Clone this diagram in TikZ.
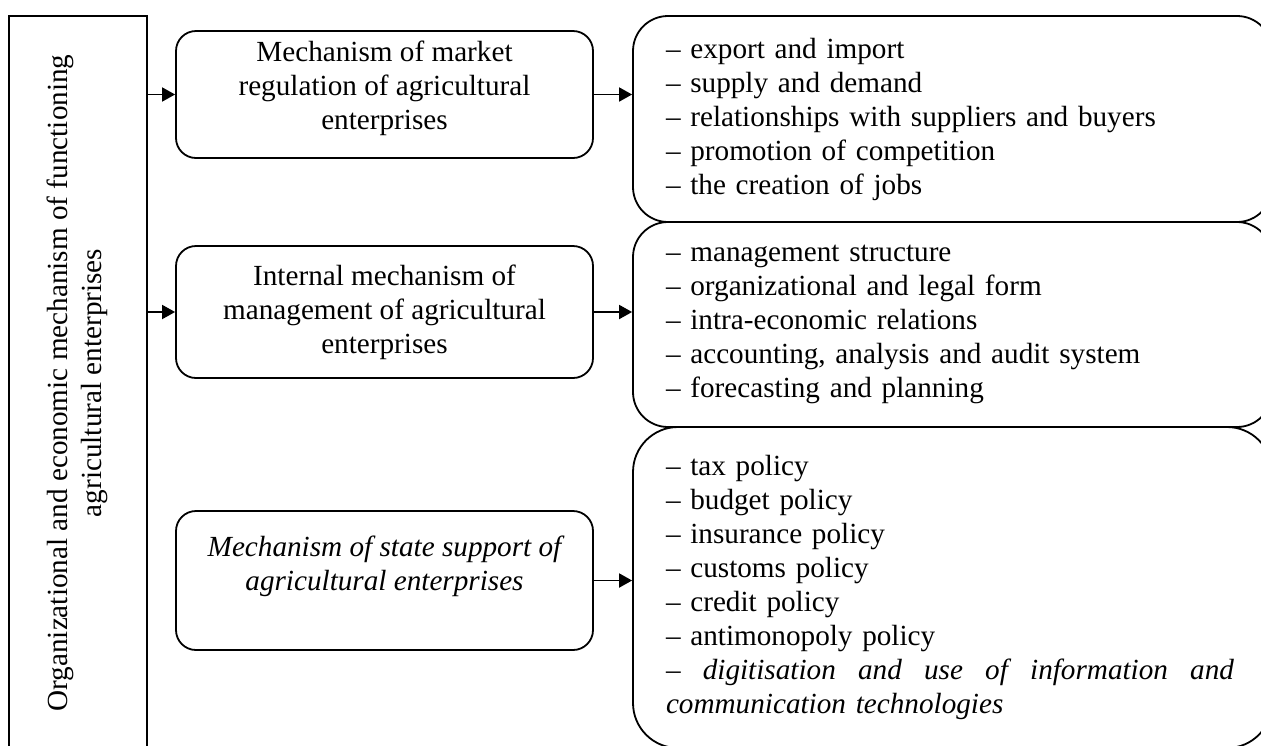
\documentclass[tikz,border=0pt]{standalone}
\usepackage{fontspec}
\setmainfont{Liberation Serif}
\usepackage{graphicx}
\usetikzlibrary{arrows.meta}
\tikzset{
  frame/.style={draw, line width=0.9pt, minimum width=69pt, minimum height=367pt, inner sep=0pt},
  mechbox/.style={draw, rounded corners=10pt, line width=0.9pt, align=center, minimum width=208.5pt, inner sep=0pt},
  factorbox/.style={draw, rounded corners=17.5pt, line width=0.9pt, align=left, text width=286.5pt, inner xsep=16pt, inner ysep=0pt, minimum width=319.5pt},
  edge/.style={-{Triangle[length=6.5pt,width=7pt]}, line width=0.9pt},
}

\begin{document}
\begin{tikzpicture}[x=0.5pt,y=-0.5pt,font=\fontsize{14.6}{17}\selectfont]
  \useasboundingbox (0,0) rectangle (1261,745);
  \clip (0,0) rectangle (1261,745);

  % left frame, open at the bottom edge of the page
  \node[frame] (frame) at (78,383) {\rotatebox{90}{\begin{tabular}{@{}c@{}}Organizational and economic mechanism of functioning\\ agricultural enterprises\end{tabular}}};

  % mechanisms
  \node[mechbox, minimum height=63.5pt] (market) at (384.5,94.5) {Mechanism of market\\ regulation of agricultural\\ enterprises\\[-8pt] \mbox{}};
  \node[mechbox, minimum height=66pt] (internal) at (384.5,312) {Internal mechanism of\\ management of agricultural\\ enterprises};
  \node[mechbox, minimum height=69.5pt, font=\fontsize{14.6}{17}\selectfont\itshape] (state) at (384.5,580.5) {Mechanism of state support of\\ agricultural enterprises\\ \mbox{}};

  % factor lists
  \node[factorbox, minimum height=103pt] (marketlist) at (952.5,119) {%
    – export and import\\ – supply and demand\\ – relationships with suppliers and buyers\\ – promotion of competition\\ – the creation of jobs};
  \node[factorbox, minimum height=102.5pt] (internallist) at (952.5,324.5) {%
    – management structure\\ – organizational and legal form\\ – intra-economic relations\\ – accounting, analysis and audit system\\ – forecasting and planning};
  \node[factorbox, rounded corners=22.5pt, minimum height=160.5pt] (statelist) at (952.5,587.5) {%
    – tax policy\\ – budget policy\\ – insurance policy\\ – customs policy\\ – credit policy\\ – antimonopoly policy\\
    \leavevmode\hbox to 284pt{\itshape –\hfill digitisation\hfill and\hfill use\hfill of\hfill information\hfill and}\\ \textit{communication technologies}};

  \draw[edge] (frame.east |- market.west) -- (market.west);
  \draw[edge] (frame.east |- internal.west) -- (internal.west);

  \draw[edge] (market.east) -- (marketlist.west |- market.east);
  \draw[edge] (internal.east) -- (internallist.west |- internal.east);
  \draw[edge] (state.east) -- (statelist.west |- state.east);
\end{tikzpicture}
\end{document}
